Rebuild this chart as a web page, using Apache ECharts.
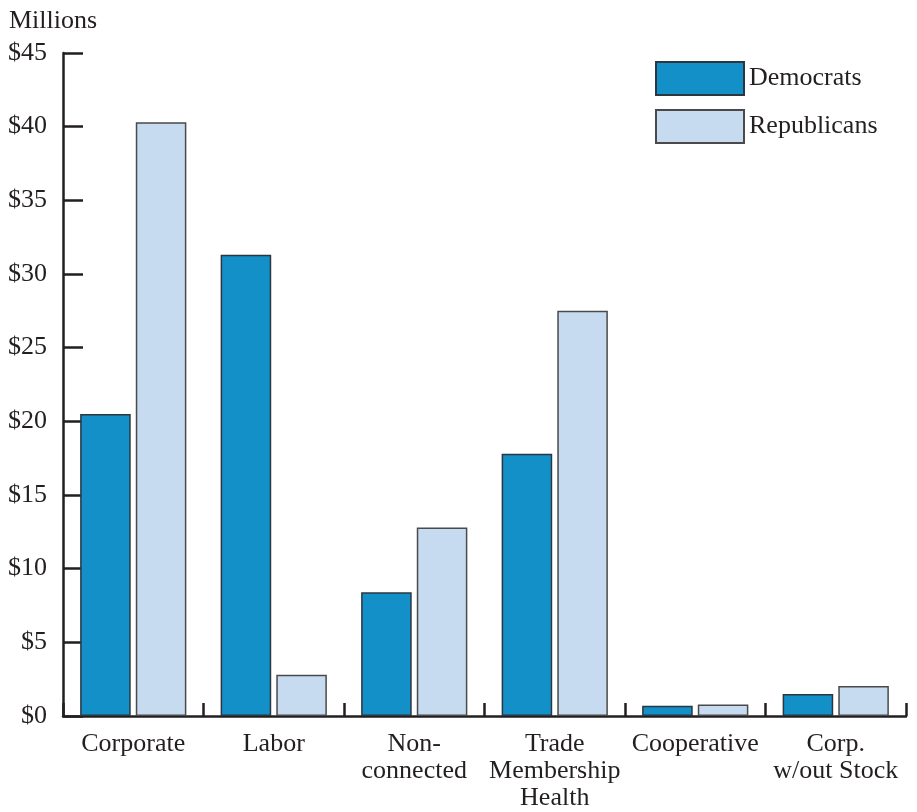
<!DOCTYPE html>
<html>
<head>
<meta charset="utf-8">
<script src="https://cdn.jsdelivr.net/npm/echarts@6/dist/echarts.min.js"></script>
<style>
html,body{margin:0;padding:0;background:#fff;}
#c{width:917px;height:812px;}
</style>
</head>
<body>
<div id="c"></div>
<script>
const categories = ['Corporate', 'Labor', 'Non-\nconnected', 'Trade\nMembership\nHealth', 'Cooperative', 'Corp.\nw/out Stock'];
const democrats = [20.5, 31.3, 8.4, 17.8, 0.7, 1.5];
const republicans = [40.3, 2.8, 12.8, 27.5, 0.78, 2.03];
const yTicks = { min: 0, max: 45, interval: 5 };

const FONT = '"Liberation Serif", "Times New Roman", serif';
const INK = '#231f20';

const chart = echarts.init(document.getElementById('c'));
chart.setOption({
  animation: false,
  backgroundColor: '#fff',
  textStyle: { fontFamily: FONT, color: INK },
  title: {
    text: 'Millions',
    left: 4, top: 3,
    textStyle: { fontFamily: FONT, fontSize: 26, fontWeight: 'normal', color: INK }
  },
  legend: {
    left: 650, top: 56, orient: 'vertical',
    itemWidth: 88, itemHeight: 33, itemGap: 13,
    icon: 'rect',
    textStyle: { fontFamily: FONT, fontSize: 26, color: INK },
    data: ['Democrats', 'Republicans']
  },
  grid: { left: 63, right: 11, top: 53, bottom: 96, containLabel: false },
  xAxis: {
    type: 'category',
    data: categories,
    axisLine: { lineStyle: { color: INK, width: 2.5 } },
    axisTick: { show: true, inside: true, length: 13, lineStyle: { color: INK, width: 2.5 } },
    axisLabel: { fontFamily: FONT, fontSize: 26, color: INK, lineHeight: 27, margin: 15, interval: 0 }
  },
  yAxis: {
    type: 'value',
    min: yTicks.min, max: yTicks.max, interval: yTicks.interval,
    splitLine: { show: false },
    axisLine: { show: true, lineStyle: { color: INK, width: 2.5 } },
    axisTick: { show: true, inside: true, length: 20, lineStyle: { color: INK, width: 2.5 } },
    axisLabel: { fontFamily: FONT, fontSize: 26, color: INK, margin: 16, padding: [7, 0, 0, 0], formatter: v => '$' + v }
  },
  series: [
    {
      name: 'Democrats', type: 'bar', data: democrats,
      barWidth: '36%', barGap: '10%',
      itemStyle: { color: '#1490c9', borderColor: '#2b3640', borderWidth: 1.5 }
    },
    {
      name: 'Republicans', type: 'bar', data: republicans,
      barWidth: '36%', barGap: '10%',
      itemStyle: { color: '#c6dbef', borderColor: '#4a4a4a', borderWidth: 1.5 }
    }
  ]
});
</script>
</body>
</html>
